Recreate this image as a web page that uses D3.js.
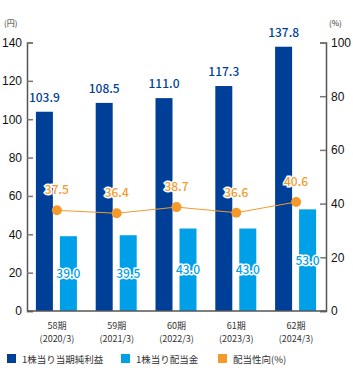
<!DOCTYPE html>
<html>
<head>
<meta charset="utf-8">
<script src="https://cdn.jsdelivr.net/npm/d3@7"></script>
<style>
  body { margin: 0; background: #fff; }
  svg { font-family: "Noto Sans CJK JP", "Noto Sans", sans-serif; }
</style>
</head>
<body>
<div id="graf"></div>
<script>
// Datos
const periodos = ["58期", "59期", "60期", "61期", "62期"]
const anios = ["(2020/3)", "(2021/3)", "(2022/3)", "(2023/3)", "(2024/3)"]
const beneficio = [103.9, 108.5, 111.0, 117.3, 137.8]
const dividendo = [39.0, 39.5, 43.0, 43.0, 53.0]
const payout = [37.5, 36.4, 38.7, 36.6, 40.6]
const ticksIzq = [0, 20, 40, 60, 80, 100, 120, 140]
const ticksDer = [0, 20, 40, 60, 80, 100]
const leyenda = ["1株当り当期純利益", "1株当り配当金", "配当性向(%)"]

const azul = "#003f98"
const celeste = "#00a0e9"
const naranja = "#f39a2b"

const draw = () => {
  const ancho = 353
  const alto = 370
  const margen = { top: 42.5, right: 27, bottom: 59, left: 27 }

  const svg = d3
    .select("#graf")
    .append("svg")
    .attr("width", ancho)
    .attr("height", alto)

  const x = d3
    .scaleBand()
    .domain(periodos)
    .range([margen.left, ancho - margen.right])

  const y = d3
    .scaleLinear()
    .domain([0, 140])
    .range([alto - margen.bottom, margen.top])

  const y2 = d3
    .scaleLinear()
    .domain([0, 100])
    .range([alto - margen.bottom, margen.top])

  const barW = 17

  // Barras
  svg
    .append("g")
    .selectAll("rect")
    .data(beneficio)
    .join("rect")
    .attr("x", (d, i) => x(periodos[i]) + x.bandwidth() / 2 - 21)
    .attr("y", (d) => y(d))
    .attr("width", barW)
    .attr("height", (d) => y(0) - y(d))
    .attr("fill", azul)

  svg
    .append("g")
    .selectAll("rect")
    .data(dividendo)
    .join("rect")
    .attr("x", (d, i) => x(periodos[i]) + x.bandwidth() / 2 + 3)
    .attr("y", (d) => y(d))
    .attr("width", barW)
    .attr("height", (d) => y(0) - y(d))
    .attr("fill", celeste)

  // Ejes (ticks hacia dentro)
  const ejeIzq = svg
    .append("g")
    .attr("transform", `translate(${margen.left},0)`)
    .call(d3.axisRight(y).tickValues(ticksIzq).tickSize(6))
  ejeIzq.selectAll("text").attr("text-anchor", "end").attr("x", -5)

  const ejeDer = svg
    .append("g")
    .attr("transform", `translate(${ancho - margen.right},0)`)
    .call(d3.axisLeft(y2).tickValues(ticksDer).tickSize(6))
  ejeDer.selectAll("text").attr("text-anchor", "start").attr("x", 5)

  for (const eje of [ejeIzq, ejeDer]) {
    eje.select(".domain").attr("stroke", "#555").attr("stroke-width", 1.5)
    eje.selectAll(".tick line").attr("stroke", "#777").attr("stroke-width", 1.5)
    eje.selectAll("text").attr("font-size", 12).attr("fill", "#111")
  }

  // Línea base
  svg
    .append("line")
    .attr("x1", margen.left)
    .attr("x2", ancho - margen.right)
    .attr("y1", y(0))
    .attr("y2", y(0))
    .attr("stroke", "#555")
    .attr("stroke-width", 1.5)

  // Unidades
  svg.append("text").attr("x", 4).attr("y", 26).attr("font-size", 8).attr("fill", "#333").text("(円)")
  svg.append("text").attr("x", 329).attr("y", 26).attr("font-size", 8).attr("fill", "#333").text("(%)")

  // Línea de payout
  const linea = d3
    .line()
    .x((d, i) => x(periodos[i]) + x.bandwidth() / 2)
    .y((d) => y2(d))

  svg
    .append("path")
    .datum(payout)
    .attr("d", linea)
    .attr("fill", "none")
    .attr("stroke", naranja)
    .attr("stroke-width", 1)

  svg
    .append("g")
    .selectAll("circle")
    .data(payout)
    .join("circle")
    .attr("cx", (d, i) => x(periodos[i]) + x.bandwidth() / 2)
    .attr("cy", (d) => y2(d))
    .attr("r", 5)
    .attr("fill", naranja)

  // Etiquetas
  svg
    .append("g")
    .selectAll("text")
    .data(beneficio)
    .join("text")
    .attr("x", (d, i) => x(periodos[i]) + x.bandwidth() / 2 - 12.5)
    .attr("y", (d) => y(d) - 10)
    .attr("text-anchor", "middle")
    .attr("font-size", 12)
    .attr("font-weight", 500)
    .attr("fill", azul)
    .text((d) => d.toFixed(1))

  svg
    .append("g")
    .selectAll("text")
    .data(dividendo)
    .join("text")
    .attr("x", (d, i) => x(periodos[i]) + x.bandwidth() / 2 + 11.5)
    .attr("y", (d) => y(d / 2) + 4.5)
    .attr("text-anchor", "middle")
    .attr("font-size", 12)
    .attr("font-weight", 500)
    .attr("fill", celeste)
    .attr("stroke", "#fff")
    .attr("stroke-width", 3)
    .attr("paint-order", "stroke")
    .text((d) => d.toFixed(1))

  svg
    .append("g")
    .selectAll("text")
    .data(payout)
    .join("text")
    .attr("x", (d, i) => x(periodos[i]) + x.bandwidth() / 2)
    .attr("y", (d) => y2(d) - 16)
    .attr("text-anchor", "middle")
    .attr("font-size", 12)
    .attr("font-weight", 500)
    .attr("fill", naranja)
    .attr("stroke", "#fff")
    .attr("stroke-width", 3)
    .attr("paint-order", "stroke")
    .text((d) => d.toFixed(1))

  // Categorías
  const cat = svg
    .append("g")
    .selectAll("text")
    .data(periodos)
    .join("text")
    .attr("x", (d) => x(d) + x.bandwidth() / 2)
    .attr("text-anchor", "middle")
    .attr("font-size", 9)
    .attr("fill", "#333")
  cat.append("tspan").attr("y", 329).text((d) => d)
  cat
    .append("tspan")
    .attr("x", (d) => x(d) + x.bandwidth() / 2)
    .attr("y", 342)
    .text((d, i) => anios[i])

  // Leyenda
  const posLey = [7, 121, 218]
  const colLey = [azul, celeste, naranja]
  const ley = svg
    .append("g")
    .selectAll("g")
    .data(leyenda)
    .join("g")
    .attr("transform", (d, i) => `translate(${posLey[i]},354)`)
  ley.append("rect").attr("width", 9).attr("height", 9).attr("fill", (d, i) => colLey[i])
  ley
    .append("text")
    .attr("x", 15)
    .attr("y", 8.5)
    .attr("font-size", 9.5)
    .attr("fill", "#333")
    .text((d) => d)
}

draw()
</script>
</body>
</html>
